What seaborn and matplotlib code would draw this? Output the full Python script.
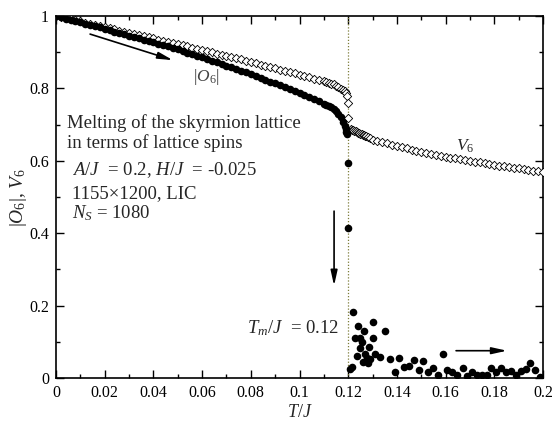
import numpy as np
import pandas as pd
import matplotlib
matplotlib.use("Agg")
import matplotlib.pyplot as plt
import seaborn as sns

# ---------------- data ----------------
# V6 (open diamonds)
v6_T = [0.000, 0.002, 0.004, 0.006, 0.008, 0.010, 0.012, 0.014, 0.016, 0.018,
        0.020, 0.022, 0.024, 0.026, 0.028, 0.030, 0.032, 0.034, 0.036, 0.038,
        0.040, 0.042, 0.044, 0.046, 0.048, 0.050, 0.052, 0.054, 0.056, 0.058,
        0.060, 0.062, 0.064, 0.066, 0.068, 0.070, 0.072, 0.074, 0.076, 0.078,
        0.080, 0.082, 0.084, 0.086, 0.088, 0.090, 0.092, 0.094, 0.096, 0.098,
        0.100, 0.102, 0.104, 0.106, 0.108, 0.110, 0.111, 0.112, 0.113, 0.114,
        0.115, 0.116, 0.117, 0.118, 0.1185, 0.119, 0.1195, 0.120, 0.120,
        0.121, 0.1215, 0.122, 0.1225, 0.123, 0.1235, 0.124, 0.1245, 0.125, 0.1255,
        0.126, 0.1265, 0.127, 0.1275, 0.128, 0.129, 0.130, 0.132, 0.134, 0.136,
        0.138, 0.140, 0.142, 0.144, 0.146, 0.148, 0.150, 0.152, 0.154, 0.156,
        0.158, 0.160, 0.162, 0.164, 0.166, 0.168, 0.170, 0.172, 0.174, 0.176,
        0.178, 0.180, 0.182, 0.184, 0.186, 0.188, 0.190, 0.192, 0.194, 0.196,
        0.198, 0.200]
v6_val = [1.000, 0.997, 0.994, 0.991, 0.988, 0.985, 0.982, 0.978, 0.975, 0.972,
          0.969, 0.966, 0.963, 0.959, 0.956, 0.953, 0.950, 0.947, 0.944, 0.941,
          0.938, 0.935, 0.931, 0.928, 0.925, 0.922, 0.919, 0.916, 0.912, 0.909,
          0.906, 0.903, 0.900, 0.896, 0.893, 0.890, 0.887, 0.883, 0.880, 0.876,
          0.873, 0.870, 0.866, 0.863, 0.859, 0.856, 0.852, 0.849, 0.845, 0.842,
          0.838, 0.834, 0.831, 0.827, 0.824, 0.820, 0.818, 0.816, 0.813, 0.811,
          0.807, 0.804, 0.799, 0.795, 0.792, 0.787, 0.780, 0.760, 0.717,
          0.688, 0.686, 0.684, 0.683, 0.681, 0.680, 0.678, 0.677, 0.675, 0.674,
          0.672, 0.671, 0.669, 0.668, 0.665, 0.662, 0.658, 0.655, 0.651, 0.648,
          0.644, 0.640, 0.637, 0.634, 0.630, 0.627, 0.624, 0.621, 0.619, 0.616,
          0.614, 0.611, 0.609, 0.607, 0.605, 0.602, 0.600, 0.598, 0.596, 0.594,
          0.591, 0.589, 0.587, 0.585, 0.583, 0.581, 0.579, 0.577, 0.575, 0.573,
          0.572, 0.570]

# |O6| (filled circles)
o6_T = [0.000, 0.002, 0.004, 0.006, 0.008, 0.010, 0.012, 0.014, 0.016, 0.018,
        0.020, 0.022, 0.024, 0.026, 0.028, 0.030, 0.032, 0.034, 0.036, 0.038,
        0.040, 0.042, 0.044, 0.046, 0.048, 0.050, 0.052, 0.054, 0.056, 0.058,
        0.060, 0.062, 0.064, 0.066, 0.068, 0.070, 0.072, 0.074, 0.076, 0.078,
        0.080, 0.082, 0.084, 0.086, 0.088, 0.090, 0.092, 0.094, 0.096, 0.098,
        0.100, 0.102, 0.104, 0.106, 0.108, 0.110, 0.111, 0.112, 0.113, 0.114,
        0.115, 0.116, 0.117, 0.118, 0.1185, 0.119, 0.1193, 0.1195, 0.120, 0.120,
        0.1207, 0.1214, 0.1221, 0.1228, 0.1235, 0.1242, 0.1248, 0.1248, 0.1255, 0.1262,
        0.1265, 0.1269, 0.1276, 0.1283, 0.1287, 0.1290, 0.1301, 0.1303, 0.1310, 0.1331,
        0.1350, 0.1372, 0.1392, 0.1410, 0.1430, 0.1450, 0.1470, 0.1491, 0.1508, 0.1529,
        0.1550, 0.1570, 0.1588, 0.1607, 0.1628, 0.1648, 0.1670, 0.1687, 0.1707, 0.1728,
        0.1748, 0.1769, 0.1786, 0.1807, 0.1828, 0.1848, 0.1869, 0.1889, 0.1910, 0.1929,
        0.1947, 0.1967, 0.1988]
o6_val = [1.000, 0.997, 0.993, 0.990, 0.986, 0.983, 0.979, 0.976, 0.972, 0.969,
          0.965, 0.961, 0.957, 0.954, 0.950, 0.946, 0.942, 0.939, 0.935, 0.931,
          0.928, 0.924, 0.920, 0.916, 0.912, 0.908, 0.904, 0.899, 0.895, 0.890,
          0.886, 0.881, 0.877, 0.872, 0.868, 0.863, 0.858, 0.853, 0.849, 0.844,
          0.839, 0.834, 0.829, 0.824, 0.819, 0.814, 0.809, 0.804, 0.798, 0.793,
          0.788, 0.783, 0.777, 0.771, 0.765, 0.758, 0.755, 0.751, 0.748, 0.743,
          0.738, 0.730, 0.720, 0.708, 0.697, 0.688, 0.680, 0.673, 0.595, 0.415,
          0.024, 0.031, 0.181, 0.110, 0.062, 0.144, 0.110, 0.084, 0.100, 0.045,
          0.130, 0.066, 0.054, 0.041, 0.086, 0.052, 0.154, 0.111, 0.065, 0.057,
          0.129, 0.052, 0.017, 0.056, 0.031, 0.034, 0.050, 0.022, 0.047, 0.017,
          0.027, 0.008, 0.065, 0.022, 0.017, 0.008, 0.029, 0.006, 0.017, 0.008,
          0.008, 0.008, 0.027, 0.017, 0.029, 0.017, 0.019, 0.008, 0.019, 0.025,
          0.042, 0.022, 0.004]

x_ticks = [0, 0.02, 0.04, 0.06, 0.08, 0.1, 0.12, 0.14, 0.16, 0.18, 0.2]
x_labels = ["0", "0.02", "0.04", "0.06", "0.08", "0.1", "0.12", "0.14", "0.16", "0.18", "0.2"]
y_ticks = [0, 0.2, 0.4, 0.6, 0.8, 1]
y_labels = ["0", "0.2", "0.4", "0.6", "0.8", "1"]
T_melt = 0.12

# ---------------- style ----------------
sns.set_style("ticks")
plt.rcParams["font.family"] = ["Liberation Serif", "DejaVu Serif"]
plt.rcParams["mathtext.fontset"] = "custom"
plt.rcParams["mathtext.rm"] = "Liberation Serif"
plt.rcParams["mathtext.it"] = "Liberation Serif:italic"
plt.rcParams["mathtext.bf"] = "Liberation Serif:bold"

fig = plt.figure(figsize=(5.53, 4.21), dpi=100)
ax = fig.add_axes([56 / 553, 1 - 378 / 421, 487 / 553, 362 / 421])

df_v6 = pd.DataFrame({"T": v6_T, "val": v6_val})
df_o6 = pd.DataFrame({"T": o6_T, "val": o6_val})

ax.axvline(T_melt, color="#7d7d3a", ls=(0, (1, 1.5)), lw=0.9, zorder=1)

sns.scatterplot(data=df_v6, x="T", y="val", ax=ax, marker="D", s=18,
                facecolor="white", edgecolor="black", linewidth=0.6, zorder=3)
sns.scatterplot(data=df_o6, x="T", y="val", ax=ax, marker="o", s=30,
                color="black", edgecolor="black", linewidth=0, zorder=4)

ax.set_xlim(0, 0.2)
ax.set_ylim(0, 1)
ax.set_xticks(x_ticks)
ax.set_xticklabels(x_labels)
ax.set_yticks(y_ticks)
ax.set_yticklabels(y_labels)
ax.set_xticks([0.01, 0.03, 0.05, 0.07, 0.09, 0.11, 0.13, 0.15, 0.17, 0.19], minor=True)
ax.set_yticks([0.1, 0.3, 0.5, 0.7, 0.9], minor=True)
ax.tick_params(which="both", direction="in", top=True, right=True, width=1.0,
               labelsize=11.5, color="black", labelcolor="black")
ax.tick_params(which="major", length=6, pad=5)
ax.tick_params(which="minor", length=3)
for sp in ax.spines.values():
    sp.set_linewidth(1.2)
    sp.set_color("black")

ax.set_xlabel("$T/J$", fontsize=13, labelpad=2)
ax.set_ylabel("$|O_6|$, $V_6$", fontsize=14, labelpad=0)

fs = 13.5
ax.text(0.0045, 0.704, "Melting of the skyrmion lattice", fontsize=fs, va="center", ha="left")
ax.text(0.0045, 0.648, "in terms of lattice spins", fontsize=fs, va="center", ha="left")
ax.text(0.0064, 0.573, "$A/J$  = 0.2, $H/J$  = -0.025", fontsize=fs, va="center", ha="left")
ax.text(0.0064, 0.510, "1155×1200, LIC", fontsize=fs, va="center", ha="left")
ax.text(0.0064, 0.455, "$N_S$ = 1080", fontsize=fs, va="center", ha="left")

ax.text(0.0616, 0.831, "$|O_6|$", fontsize=12.5, va="center", ha="center", color="#444444")
ax.text(0.168, 0.640, "$V_6$", fontsize=12.5, va="center", ha="center")
ax.text(0.1165, 0.138, "$T_m/J$  = 0.12", fontsize=fs, va="center", ha="right")

arrow_kw = dict(arrowstyle="-|>,head_length=0.9,head_width=0.2", color="black", lw=1.2,
                shrinkA=0, shrinkB=0)
ax.annotate("", xy=(0.048, 0.878), xytext=(0.0140, 0.950), arrowprops=arrow_kw)
ax.annotate("", xy=(0.1142, 0.255), xytext=(0.1142, 0.461), arrowprops=arrow_kw)
ax.annotate("", xy=(0.1852, 0.0754), xytext=(0.1643, 0.0754), arrowprops=arrow_kw)

fig.savefig("out.png", dpi=100)
